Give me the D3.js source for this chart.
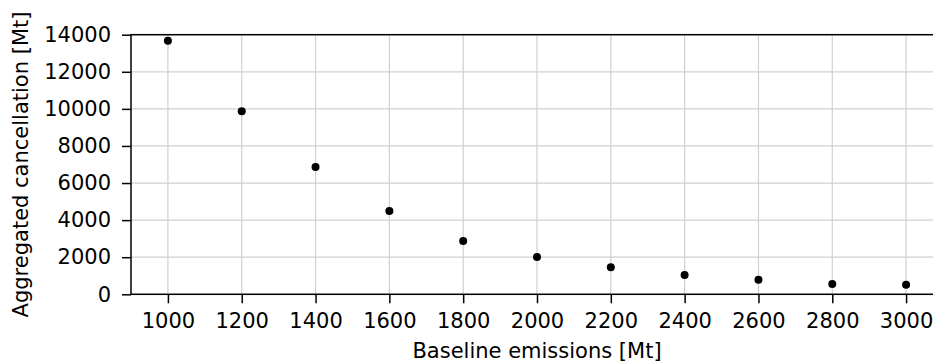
<!DOCTYPE html>
<html>
<head>
<meta charset="utf-8">
<script src="https://cdn.jsdelivr.net/npm/d3@7"></script>
<style>
  body { margin: 0; background: #fff; }
  svg { display: block; font-family: "DejaVu Sans", sans-serif; }
</style>
</head>
<body>
<div id="chart"></div>
<script>
// data
const baseline = [1000, 1200, 1400, 1600, 1800, 2000, 2200, 2400, 2600, 2800, 3000];
const cancellation = [13680, 9870, 6860, 4490, 2870, 2010, 1460, 1040, 790, 555, 520];
const xTicks = [1000, 1200, 1400, 1600, 1800, 2000, 2200, 2400, 2600, 2800, 3000];
const yTicks = [0, 2000, 4000, 6000, 8000, 10000, 12000, 14000];

// set the dimensions and margins of the graph (right spine falls just outside the window)
const margin = {top: 34.7, right: -10, bottom: 68.7, left: 131},
    W = 933, H = 363,
    width = W - margin.left - margin.right,
    height = H - margin.top - margin.bottom;

const svg = d3.select("#chart")
  .append("svg")
    .attr("width", W)
    .attr("height", H)
  .append("g")
    .attr("transform", `translate(${margin.left}, ${margin.top})`);

const x = d3.scaleLinear()
  .domain([900, 3100])
  .range([0, width]);

const y = d3.scaleLinear()
  .domain([0, 14000])
  .range([height, 0]);

const fontSize = 21;

// grid
svg.append("g")
  .selectAll("line")
  .data(xTicks)
  .join("line")
    .attr("x1", d => x(d)).attr("x2", d => x(d))
    .attr("y1", 0).attr("y2", height)
    .attr("stroke", "#d0d0d0")
    .attr("stroke-width", 1.2);

svg.append("g")
  .selectAll("line")
  .data(yTicks)
  .join("line")
    .attr("x1", 0).attr("x2", width)
    .attr("y1", d => y(d)).attr("y2", d => y(d))
    .attr("stroke", "#d0d0d0")
    .attr("stroke-width", 1.2);

// frame
svg.append("rect")
  .attr("width", width)
  .attr("height", height)
  .attr("fill", "none")
  .attr("stroke", "#000")
  .attr("stroke-width", 1.5);

// X axis
const xAxis = svg.append("g")
  .attr("transform", `translate(0, ${height})`)
  .call(d3.axisBottom(x).tickValues(xTicks).tickFormat(d3.format("d")).tickSize(9).tickPadding(10));
xAxis.select(".domain").remove();
xAxis.selectAll(".tick line").attr("stroke", "#000").attr("stroke-width", 1.5);
xAxis.selectAll(".tick text")
  .attr("font-size", fontSize)
  .attr("font-family", "DejaVu Sans")
  .attr("fill", "#000");

// Y axis
const yAxis = svg.append("g")
  .call(d3.axisLeft(y).tickValues(yTicks).tickFormat(d3.format("d")).tickSize(9).tickPadding(11));
yAxis.select(".domain").remove();
yAxis.selectAll(".tick line").attr("stroke", "#000").attr("stroke-width", 1.5);
yAxis.selectAll(".tick text")
  .attr("font-size", fontSize)
  .attr("font-family", "DejaVu Sans")
  .attr("fill", "#000");

// axis labels
svg.append("text")
  .attr("x", width / 2)
  .attr("y", 358 - margin.top)
  .attr("text-anchor", "middle")
  .attr("font-size", fontSize)
  .attr("fill", "#000")
  .text("Baseline emissions [Mt]");

svg.append("text")
  .attr("transform", `translate(${28 - margin.left}, ${height / 2}) rotate(-90)`)
  .attr("text-anchor", "middle")
  .attr("font-size", fontSize)
  .attr("fill", "#000")
  .text("Aggregated cancellation [Mt]");

// points
svg.append("g")
  .selectAll("circle")
  .data(baseline.map((b, i) => ({b: b, c: cancellation[i]})))
  .join("circle")
    .attr("cx", d => x(d.b))
    .attr("cy", d => y(d.c))
    .attr("r", 4)
    .attr("fill", "#000");
</script>
</body>
</html>
